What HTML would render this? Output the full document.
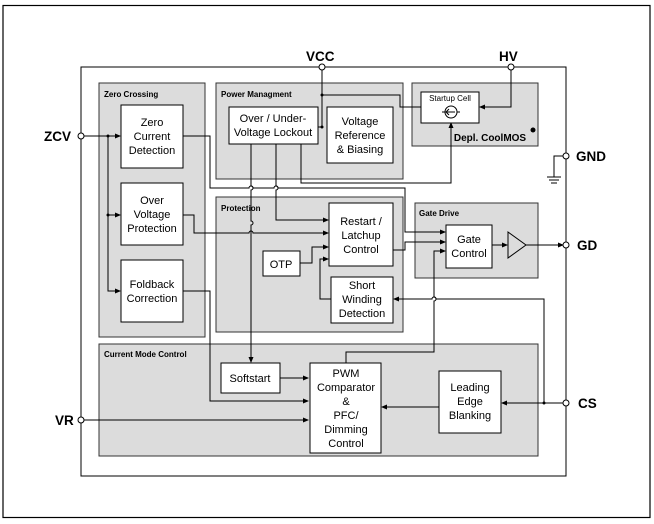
<!DOCTYPE html>
<html><head><meta charset="utf-8"><style>
html,body{margin:0;padding:0;background:#fff;width:654px;height:524px;overflow:hidden}
svg{display:block}
text{font-family:"Liberation Sans",Arial,sans-serif;fill:#000}
.b{font-size:11px;text-anchor:middle}
.t{font-size:8px;font-weight:bold}
.p{font-size:13.5px;font-weight:bold}
</style></head><body>
<svg width="654" height="524" viewBox="0 0 654 524">
<defs><marker id="a" markerWidth="6" markerHeight="6" refX="5" refY="3" orient="auto" markerUnits="userSpaceOnUse"><path d="M0,0.5 L6,3 L0,5.5z" fill="#000"/></marker></defs>
<rect x="3" y="5.5" width="647" height="512" fill="none" stroke="#000" stroke-width="1.2"/>
<rect x="81" y="67" width="485" height="409" fill="none" stroke="#000" stroke-width="1"/>
<g fill="#dcdcdc" stroke="#333" stroke-width="1">
<rect x="99" y="83" width="106" height="254"/>
<rect x="216" y="83" width="187" height="96"/>
<rect x="412" y="83" width="126" height="63"/>
<rect x="216" y="197" width="187" height="135"/>
<rect x="415" y="203" width="123" height="75"/>
<rect x="99" y="344" width="439" height="112"/>
</g>
<g class="t"><text x="104" y="97" class="t">Zero Crossing</text>
<text x="221" y="97" class="t">Power Managment</text>
<text x="221" y="211" class="t">Protection</text>
<text x="419" y="216" class="t">Gate Drive</text>
<text x="104" y="357" class="t">Current Mode Control</text></g>
<g fill="none" stroke="#000" stroke-width="1">
<!-- VCC -->
<path d="M322,70 V127 H318"/>
<path d="M322,95 H400 V107 H421"/>
<path d="M511,70 V107 H480" marker-end="url(#a)"/>
<path d="M301,144 V183 H451 V123" marker-end="url(#a)"/>
<!-- OVL outputs -->
<path d="M251,144 V186 a2,2 0 0 1 0,4 V221 a2,2 0 0 1 0,4 V362" marker-end="url(#a)"/>
<path d="M276,144 V186 a2,2 0 0 1 0,4 V220 H328" marker-end="url(#a)"/>
<!-- ZCD out -->
<path d="M183,136 H210 V188 H249 a2,2 0 0 1 4,0 H274 a2,2 0 0 1 4,0 H405 V232 H445" marker-end="url(#a)"/>
<!-- ZCV -->
<path d="M84,136 H120" marker-end="url(#a)"/>
<path d="M108,136 V291 H120" marker-end="url(#a)"/>
<path d="M108,215 H120" marker-end="url(#a)"/>
<!-- OVP out -->
<path d="M183,215 H194 V233 H249 a2,2 0 0 1 4,0 H328" marker-end="url(#a)"/>
<!-- OTP -->
<path d="M300,263 H312 V247 H328" marker-end="url(#a)"/>
<!-- short winding -->
<path d="M331,299 H320 V259 H328" marker-end="url(#a)"/>
<!-- restart out -->
<path d="M393,250 H405 V242 H445" marker-end="url(#a)"/>
<!-- gate control out -->
<path d="M492,245 H507" marker-end="url(#a)"/>
<path d="M526,245 H563" marker-end="url(#a)"/>
<!-- PWM to gate -->
<path d="M346,363 V352 H434 V301 a2,2 0 0 0 0,-4 V251 H445" marker-end="url(#a)"/>
<!-- CS -->
<path d="M563,403 H502" marker-end="url(#a)"/>
<path d="M544,403 V299 H436 a2,2 0 0 0 -4,0 H394" marker-end="url(#a)"/>
<!-- foldback -->
<path d="M183,291 H210 V401 H308" marker-end="url(#a)"/>
<path d="M280,378 H308" marker-end="url(#a)"/>
<path d="M84,420 H308" marker-end="url(#a)"/>
<path d="M439,407 H382" marker-end="url(#a)"/>
<!-- GND -->
<path d="M563,156 H554 V177 M547,177 H561 M549,180 H559 M551,183 H557"/>
<polygon points="508,232 526,245 508,258"/>
</g>
<g fill="#000"><circle cx="322" cy="95" r="1.5"/><circle cx="322" cy="127" r="1.5"/><circle cx="108" cy="136" r="1.5"/><circle cx="108" cy="215" r="1.5"/><circle cx="544" cy="403" r="1.5"/><circle cx="533" cy="130" r="2.5"/></g>
<g fill="#fff" stroke="#000" stroke-width="1">
<rect x="121" y="105" width="62" height="63"/>
<rect x="121" y="183" width="62" height="62"/>
<rect x="121" y="260" width="62" height="62"/>
<rect x="229" y="107" width="89" height="37"/>
<rect x="327" y="107" width="66" height="56"/>
<rect x="421" y="92" width="58" height="31"/>
<rect x="329" y="203" width="64" height="63"/>
<rect x="263" y="251" width="37" height="25"/>
<rect x="331" y="277" width="62" height="46"/>
<rect x="446" y="225" width="46" height="43"/>
<rect x="221" y="363" width="59" height="30"/>
<rect x="310" y="363" width="71" height="90"/>
<rect x="439" y="371" width="62" height="62"/>
<circle cx="451" cy="112" r="6"/>
<circle cx="322" cy="67" r="3"/><circle cx="511" cy="67" r="3"/>
<circle cx="81" cy="136" r="3"/><circle cx="566" cy="156" r="3"/>
<circle cx="566" cy="245" r="3"/><circle cx="566" cy="403" r="3"/>
<circle cx="81" cy="420" r="3"/>
</g>
<path d="M442,112 H445 M457,112 H460 M455,112 H447" stroke="#000" fill="none"/>
<path d="M449,109 L446,112 L449,115" stroke="#000" fill="none"/>
<g class="b">
<text x="152" y="126">Zero</text><text x="152" y="140">Current</text><text x="152" y="154">Detection</text>
<text x="152" y="204">Over</text><text x="152" y="218">Voltage</text><text x="152" y="232">Protection</text>
<text x="152" y="288">Foldback</text><text x="152" y="302">Correction</text>
<text x="273" y="122">Over / Under-</text><text x="273" y="136">Voltage Lockout</text>
<text x="360" y="125">Voltage</text><text x="360" y="139">Reference</text><text x="360" y="153">&amp; Biasing</text>
<text x="450" y="101" style="font-size:8px">Startup Cell</text>
<text x="361" y="225">Restart /</text><text x="361" y="239">Latchup</text><text x="361" y="253">Control</text>
<text x="281" y="268">OTP</text>
<text x="362" y="289">Short</text><text x="362" y="303">Winding</text><text x="362" y="317">Detection</text>
<text x="469" y="243">Gate</text><text x="469" y="257">Control</text>
<text x="250" y="382">Softstart</text>
<text x="346" y="377">PWM</text><text x="346" y="391">Comparator</text><text x="346" y="405">&amp;</text><text x="346" y="419">PFC/</text><text x="346" y="433">Dimming</text><text x="346" y="447">Control</text>
<text x="470" y="391">Leading</text><text x="470" y="405">Edge</text><text x="470" y="419">Blanking</text>
<text x="490" y="141" style="font-weight:bold;font-size:10px">Depl. CoolMOS</text>
</g>
<g class="p">
<text x="306" y="61" class="p">VCC</text><text x="499" y="61" class="p">HV</text>
<text x="44" y="141" class="p">ZCV</text><text x="576" y="161" class="p">GND</text>
<text x="577" y="250" class="p">GD</text><text x="578" y="408" class="p">CS</text>
<text x="55" y="425" class="p">VR</text></g>
</svg>
</body></html>
